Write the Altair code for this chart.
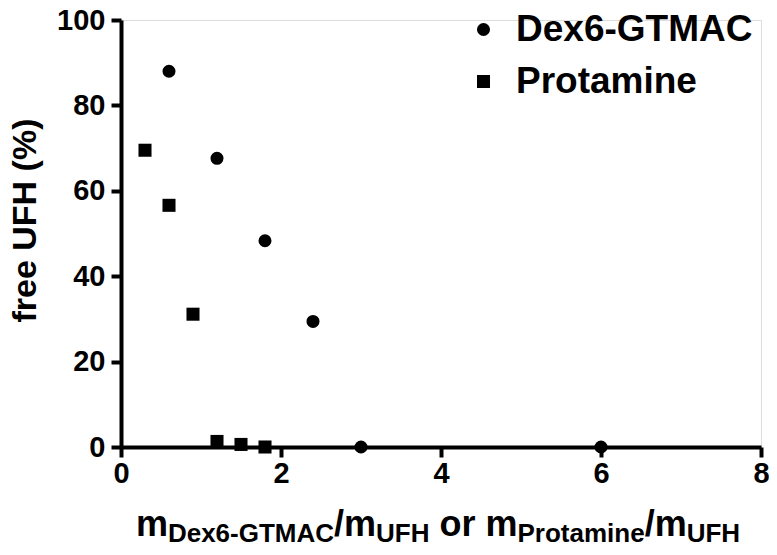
import altair as alt
import pandas as pd

# data
dex_x = [0.6, 1.2, 1.8, 2.4, 3.0, 6.0]
dex_y = [88.0, 67.6, 48.3, 29.4, 0.0, 0.0]
pro_x = [0.3, 0.6, 0.9, 1.2, 1.5, 1.8]
pro_y = [69.5, 56.6, 31.1, 1.3, 0.6, 0.0]
series = ["Dex6-GTMAC", "Protamine"]
x_ticks = [0, 2, 4, 6, 8]
y_ticks = [0, 20, 40, 60, 80, 100]

df = pd.DataFrame({
    "x": dex_x + pro_x,
    "y": dex_y + pro_y,
    "s": [series[0]] * len(dex_x) + [series[1]] * len(pro_x),
})

FONT = "Liberation Sans"
W, H = 640, 427
TOP = 12

points = alt.Chart(df).mark_point(filled=True, size=170, opacity=1, color="black").encode(
    x=alt.X("x:Q", scale=alt.Scale(domain=[0, 8], nice=False, zero=True),
            axis=alt.Axis(values=x_ticks, title=None, grid=False, domainColor="black",
                          domainWidth=4, tickColor="black", tickWidth=4, tickSize=10,
                          labelFont=FONT, labelFontSize=29, labelFontWeight="bold",
                          labelColor="black", labelPadding=2, labelFlush=False)),
    y=alt.Y("y:Q", scale=alt.Scale(domain=[0, 100], nice=False),
            axis=alt.Axis(values=y_ticks, title="free UFH (%)", grid=False, domainColor="black",
                          domainWidth=4, tickColor="black", tickWidth=4, tickSize=10,
                          labelFont=FONT, labelFontSize=29, labelFontWeight="bold",
                          labelColor="black", labelPadding=6,
                          titleFont=FONT, titleFontSize=34, titleFontWeight="bold",
                          titleColor="black", titleX=-96, titleY=200, titleAngle=270,
                          titleAlign="center", titleBaseline="middle")),
    shape=alt.Shape("s:N", scale=alt.Scale(domain=series, range=["circle", "square"]),
                    legend=alt.Legend(title=None, orient="none", legendX=344, legendY=-9,
                                      padding=0, symbolSize=170, symbolFillColor="black",
                                      symbolStrokeColor="black", symbolStrokeWidth=0,
                                      labelFont=FONT, labelFontSize=37, labelFontWeight="bold",
                                      labelColor="black", labelOffset=14, rowPadding=14,
                                      labelLimit=400)),
)

# x-axis title with subscripts: pieces (text, is_subscript, space before)
title_pieces = [("m", False, 0), ("Dex6-GTMAC", True, 0), ("/m", False, 0), ("UFH", True, 0),
                ("or m", False, 1), ("Protamine", True, 0), ("/m", False, 0), ("UFH", True, 0)]
ARIAL_BOLD = {"m": 889, "D": 722, "e": 556, "x": 556, "6": 556, "-": 333, "G": 778,
              "T": 611, "M": 833, "A": 722, "C": 722, "/": 278, "U": 722, "F": 611,
              "H": 722, "o": 611, "r": 389, " ": 278, "P": 667, "t": 333, "a": 556,
              "i": 278, "n": 611}
MAIN, SUB = 36, 26
def width(t, fs):
    return sum(ARIAL_BOLD.get(c, 556) for c in t) * fs / 1000.0

def piece_w(t, s, sp):
    fs = SUB if s else MAIN
    return width(t, fs) + sp * width(" ", MAIN)

total = sum(piece_w(*p) for p in title_pieces)
cursor = 317 - total / 2
layers = [points]
for t, s, sp in title_pieces:
    fs = SUB if s else MAIN
    cursor += sp * width(" ", MAIN)
    layers.append(
        alt.Chart(pd.DataFrame({"k": [0]})).mark_text(
            text=t, font=FONT, fontSize=fs, fontWeight="bold", color="black",
            align="left", baseline="alphabetic",
        ).encode(x=alt.value(cursor), y=alt.value((542 if s else 536) - 8 - TOP))
    )
    cursor += width(t, fs)

chart = alt.layer(*layers).properties(
    width=W, height=H,
    autosize=alt.AutoSizeParams(type="none"),
    padding={"left": 113, "top": TOP, "right": 8, "bottom": 100},
).configure_view(stroke=None).configure(background="white")

chart.save("out.html", embed_options={"renderer": "svg", "actions": False})
